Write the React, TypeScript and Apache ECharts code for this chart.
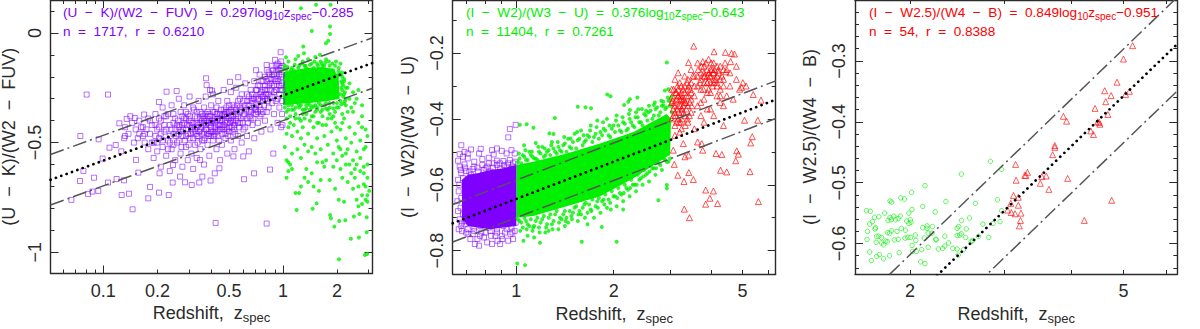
import React, { useEffect, useRef } from "react";
import * as echarts from "echarts";

// All point lists are [log10 z, y].
const p1Purple = [
[-1.093,-.281],[-.974,-.281],[-1.128,-.470],[-1.178,-.761],[-1.130,-.675],[-1.111,-.629],[-1.052,-.660],[-1.028,-.720],[-1.085,-.734],[-1.061,-.723],
[-.974,-.682],[-.926,-.666],[-.885,-.672],[-.898,-.739],[-.857,-.733],[-.837,-.804],[-.750,-.754],[-.740,-.702],[-.690,-.728],[-.636,-.739],
[-.614,-.682],[-.573,-.655],[-.545,-.681],[-.508,-.693],[-.466,-.682],[-.449,-.655],[-.403,-.673],[-.375,-.866],[-.091,-.869],[-.217,-.667],
[-.161,-.640],[-.072,-.623],[-.054,-.550],[-.221,-.563],[-.276,-.563],[-.354,-.617],[-.380,-.640],[-.462,-.579],[-.612,-.602],[-.687,-.640],
[-.805,-.637],[-.818,-.579],[-1.004,-.573],[-1.026,-.485],[-.966,-.523],[-.931,-.511],[-.911,-.412],[-.870,-.392],[-.825,-.388],[-.773,-.372],
[-.879,-.470],[-.884,-.480],[-.808,-.480],[-.690,-.315],[-.648,-.268],[-.592,-.265],[-.428,-.207],[-.425,-.238],[-.406,-.260],[-.395,-.263],
[-.295,-.223],[-.249,-.202],[-.150,-.170],[-.091,-.146],[-.013,-.088],[-.044,-.123],
[-.80,-.40],[-.79,-.43],[-.78,-.47],[-.77,-.50],[-.76,-.44],[-.75,-.39],[-.75,-.53],[-.74,-.46],[-.73,-.42],[-.72,-.50],[-.72,-.57],[-.71,-.37],[-.70,-.44],[-.70,-.54],[-.69,-.48],[-.68,-.40],[-.68,-.61],[-.67,-.34],[-.67,-.52],[-.66,-.45],
[-.65,-.38],[-.65,-.56],[-.64,-.49],[-.63,-.42],[-.63,-.63],[-.62,-.33],[-.62,-.53],[-.61,-.46],[-.60,-.39],[-.60,-.58],[-.59,-.50],[-.58,-.30],[-.58,-.43],[-.57,-.55],[-.57,-.36],[-.56,-.47],[-.56,-.61],[-.55,-.41],[-.55,-.33],[-.54,-.52],
[-.54,-.44],[-.53,-.37],[-.53,-.58],[-.52,-.48],[-.52,-.29],[-.51,-.41],[-.51,-.55],[-.50,-.34],[-.50,-.45],[-.50,-.62],[-.49,-.51],[-.49,-.38],[-.48,-.43],[-.48,-.57],[-.47,-.31],[-.47,-.47],[-.46,-.36],[-.46,-.53],[-.45,-.40],[-.45,-.49],
[-.44,-.34],[-.44,-.60],[-.43,-.44],[-.43,-.29],[-.42,-.51],[-.42,-.38],[-.41,-.46],[-.41,-.56],[-.40,-.33],[-.40,-.41],[-.39,-.49],[-.39,-.28],[-.38,-.44],[-.38,-.36],[-.37,-.53],[-.37,-.40],[-.36,-.31],[-.36,-.47],[-.35,-.58],[-.35,-.37],
[-.34,-.43],[-.34,-.51],[-.33,-.26],[-.33,-.35],[-.32,-.46],[-.32,-.40],[-.31,-.55],[-.31,-.31],[-.30,-.43],[-.30,-.36],[-.29,-.49],[-.29,-.27],[-.28,-.40],[-.28,-.33],[-.27,-.53],[-.27,-.44],[-.26,-.37],[-.26,-.25],[-.25,-.47],[-.25,-.31],
[-.24,-.41],[-.24,-.34],[-.23,-.50],[-.23,-.28],[-.22,-.38],[-.22,-.44],[-.21,-.23],[-.21,-.33],[-.20,-.47],[-.20,-.39],[-.19,-.29],[-.19,-.54],[-.18,-.36],[-.18,-.26],[-.17,-.42],[-.17,-.32],[-.16,-.22],[-.16,-.48],[-.15,-.37],[-.15,-.29],
[-.14,-.24],[-.14,-.41],[-.13,-.33],[-.13,-.19],[-.12,-.45],[-.12,-.27],[-.11,-.36],[-.11,-.22],[-.10,-.30],[-.10,-.40],[-.09,-.17],[-.09,-.26],[-.08,-.34],[-.08,-.21],[-.07,-.44],[-.07,-.29],[-.06,-.15],[-.06,-.24],[-.05,-.37],[-.05,-.19],
[-.04,-.31],[-.04,-.26],[-.03,-.14],[-.03,-.41],[-.03,-.21],[-.02,-.34],[-.02,-.17],[-.02,-.28],[-.01,-.43],[-.01,-.24],[-.01,-.13],[-.005,-.37],[-.005,-.31],[-.005,-.19],[-.003,-.42],[-.003,-.26],
[-.36,-.39],[-.35,-.44],[-.34,-.38],[-.33,-.42],[-.32,-.36],[-.31,-.44],[-.30,-.39],[-.29,-.35],[-.28,-.45],[-.27,-.37],[-.31,-.38],[-.37,-.34],[-.38,-.41],[-.39,-.45],[-.41,-.40],[-.43,-.37],[-.44,-.45],[-.46,-.41],[-.48,-.39],[-.49,-.44],
[-.52,-.42],[-.53,-.46],[-.55,-.39],[-.57,-.45],[-.59,-.42],[-.61,-.41],[-.63,-.47],[-.66,-.42],[-.69,-.43],[-.71,-.47],[-.24,-.36],[-.22,-.34],[-.20,-.31],[-.18,-.39],[-.16,-.34],[-.14,-.30],[-.12,-.37],[-.10,-.26],[-.08,-.28],[-.06,-.32],
[-.04,-.22],[-.02,-.24],[-.15,-.26],[-.13,-.28],[-.11,-.31],[-.09,-.36],[-.07,-.23],[-.05,-.27],[-.03,-.30],[-.01,-.20],
[-.47,-.42],[-.465,-.45],[-.46,-.39],[-.455,-.43],[-.45,-.46],[-.445,-.38],[-.44,-.41],[-.435,-.48],[-.43,-.40],[-.425,-.44],[-.42,-.36],[-.415,-.47],[-.41,-.42],[-.405,-.38],[-.40,-.45],[-.395,-.40],[-.39,-.36],[-.385,-.47],[-.38,-.39],[-.375,-.43],
[-.37,-.45],[-.365,-.37],[-.36,-.42],[-.355,-.49],[-.35,-.40],[-.345,-.35],[-.34,-.46],[-.335,-.39],[-.33,-.44],[-.325,-.37],[-.32,-.43],[-.315,-.34],[-.31,-.41],[-.305,-.47],[-.30,-.33],[-.295,-.41],[-.29,-.38],[-.285,-.43],[-.28,-.36],[-.275,-.41],
[-.27,-.34],[-.265,-.46],[-.26,-.40],[-.255,-.33],[-.25,-.38],[-.245,-.43],[-.24,-.30],[-.235,-.39],[-.23,-.35],[-.225,-.41],[-.22,-.31],[-.215,-.37],[-.21,-.43],[-.205,-.35],[-.20,-.28],[-.195,-.41],[-.19,-.33],[-.185,-.38],[-.18,-.31],[-.175,-.35],
[-.17,-.28],[-.165,-.39],[-.16,-.30],[-.155,-.35],[-.15,-.33],[-.145,-.26],[-.14,-.36],[-.135,-.30],[-.13,-.24],[-.125,-.35],[-.12,-.22],[-.115,-.29],[-.11,-.26],[-.105,-.33],[-.10,-.20],[-.095,-.28],[-.09,-.22],[-.085,-.31],[-.08,-.24],[-.075,-.19],
[-.07,-.26],[-.065,-.21],[-.06,-.29],[-.055,-.17],[-.05,-.24],[-.045,-.21],[-.04,-.18],[-.035,-.26],[-.03,-.17],[-.025,-.22],[-.02,-.19],[-.015,-.26],[-.01,-.16],[-.005,-.23],[-.003,-.15],[-.06,-.19],[-.04,-.15],[-.02,-.15],[-.08,-.18],[-.10,-.24],
[-.60,-.44],[-.595,-.47],[-.585,-.40],[-.58,-.49],[-.575,-.42],[-.565,-.52],[-.56,-.38],[-.555,-.44],[-.545,-.49],[-.54,-.36],[-.535,-.42],[-.525,-.51],[-.52,-.38],[-.515,-.46],[-.505,-.43],[-.50,-.48],[-.495,-.35],[-.485,-.46],[-.48,-.36],[-.475,-.50],
[-.68,-.46],[-.67,-.49],[-.66,-.38],[-.65,-.44],[-.64,-.53],[-.64,-.37],[-.63,-.50],[-.62,-.44],[-.61,-.37],[-.61,-.51],[-.74,-.40],[-.73,-.50],[-.71,-.42],[-.70,-.50],[-.69,-.39],[-.77,-.46],[-.78,-.43],[-.80,-.46],[-.82,-.44],[-.84,-.41],[-.83,-.50],[-.86,-.46],[-.85,-.38],[-.88,-.43],[-.90,-.54],
[-.44,-.39],[-.43,-.42],[-.42,-.46],[-.41,-.37],[-.40,-.43],[-.39,-.40],[-.38,-.46],[-.37,-.37],[-.36,-.44],[-.35,-.42],[-.34,-.40],[-.33,-.37],[-.32,-.48],[-.31,-.36],[-.30,-.45],[-.29,-.40],[-.28,-.38],[-.27,-.42],[-.26,-.35],[-.25,-.41],
[-.58,-.46],[-.56,-.42],[-.54,-.47],[-.52,-.40],[-.50,-.41],[-.48,-.47],[-.46,-.44],[-.44,-.49],[-.42,-.41],[-.40,-.47],[-.54,-.39],[-.51,-.44],[-.48,-.41],[-.45,-.37],[-.19,-.36],[-.17,-.30],[-.15,-.35],[-.13,-.38],[-.11,-.29],[-.09,-.30],
];
const p1GreenCore = [[0,-.18],[.06,-.17],[.13,-.16],[.22,-.155],[.28,-.165],[.31,-.20],[.315,-.30],[.25,-.31],[.15,-.32],[.05,-.325],[0,-.33]];
const p1Green = [
[.100,.112],[.184,.128],[.265,.128],[.262,.029],[.160,.009],[.262,-.005],[.252,-.036],[.239,-.047],[.113,-.062],[.117,-.093],[.085,-.105],[.206,-.100],[.017,-.111],
[.312,-1.032],[.456,-1.012],[.469,-1.008],[.378,-.938],[.423,-.933],[.466,-.909],[.076,-.807],[.165,-.801],[.187,-.777],[.267,-.845],[.262,-.830],[.313,-.857],[.347,-.854],[.395,-.837],[.425,-.825],[.466,-.840],[.286,-.883],
[.02,-.58],[.03,-.59],[.04,-.60],[.03,-.63],[.05,-.62],[.02,-.66],[.09,-.73],[.07,-.73],[.10,-.70],[.12,-.66],[.14,-.68],[.13,-.62],[.16,-.64],[.19,-.59],[.17,-.70],[.21,-.67],[.20,-.72],[.23,-.61],[.26,-.67],[.29,-.71],[.31,-.76],[.32,-.62],[.30,-.58],[.33,-.66],
[.35,-.55],[.37,-.60],[.38,-.64],[.39,-.71],[.40,-.66],[.41,-.76],[.42,-.70],[.43,-.63],[.44,-.74],[.45,-.69],[.46,-.76],[.47,-.66],[.48,-.72],[.47,-.77],[.44,-.78],[.42,-.79],[.40,-.62],[.45,-.61],[.47,-.74],[.46,-.70],[.36,-.68],[.34,-.77],
[.02,-.46],[.03,-.43],[.05,-.47],[.06,-.42],[.08,-.45],[.09,-.39],[.10,-.48],[.11,-.43],[.12,-.51],[.13,-.37],[.14,-.46],[.15,-.40],[.16,-.52],[.17,-.43],[.18,-.36],[.19,-.48],[.20,-.41],[.21,-.53],[.22,-.38],[.23,-.47],[.24,-.42],[.25,-.51],[.26,-.37],[.27,-.45],[.28,-.55],[.29,-.41],[.30,-.49],[.31,-.52],[.32,-.44],[.33,-.56],[.34,-.39],[.35,-.48],[.36,-.53],[.37,-.43],[.38,-.50],[.39,-.36],[.40,-.46],[.41,-.54],[.42,-.41],[.43,-.49],[.44,-.38],[.45,-.53],[.46,-.44],[.47,-.47],[.46,-.52],[.44,-.43],
[.02,-.36],[.04,-.38],[.06,-.35],[.07,-.39],[.09,-.34],[.11,-.37],[.13,-.33],[.15,-.35],[.17,-.38],[.19,-.34],[.21,-.36],[.23,-.33],[.25,-.35],[.27,-.39],[.29,-.36],[.31,-.34],[.33,-.37],[.35,-.33],[.36,-.36],[.38,-.34],[.40,-.32],[.37,-.30],[.39,-.27],[.42,-.26],[.41,-.30],[.44,-.33],[.36,-.25],[.34,-.22],[.37,-.23],[.35,-.30],[.33,-.26],
[.01,-.15],[.03,-.13],[.05,-.16],[.07,-.12],[.09,-.15],[.11,-.13],[.13,-.16],[.14,-.12],[.16,-.14],[.18,-.11],[.19,-.14],[.21,-.13],[.23,-.15],[.24,-.12],[.26,-.15],[.27,-.17],[.29,-.15],[.31,-.16],[.33,-.18],[.32,-.14],[.02,-.20],[.04,-.18],[.30,-.20],[.34,-.21],[.10,-.18],[.15,-.18],[.20,-.17],
[.01,-.52],[.05,-.55],[.08,-.53],[.10,-.57],[.24,-.58],[.28,-.61],[.32,-.53],[.35,-.60],[.39,-.58],[.18,-.55],[.14,-.54],[.22,-.59],[.43,-.57],[.41,-.60],[.47,-.60],[.45,-.64],
[.01,-.34],[.03,-.33],[.05,-.35],[.08,-.32],[.10,-.33],[.12,-.35],[.14,-.32],[.16,-.34],[.18,-.33],[.20,-.32],[.22,-.35],[.24,-.32],[.26,-.34],[.28,-.32],[.30,-.34],[.32,-.31],[.34,-.32],[.34,-.28],[.35,-.25],[.33,-.23],[.02,-.39],[.04,-.41],[.07,-.37],[.10,-.40],[.12,-.39],[.16,-.38],[.19,-.41],[.22,-.42],[.25,-.39],[.28,-.38],[.30,-.43],[.33,-.41],[.02,-.17],[.06,-.17],[.12,-.15],[.17,-.16],[.22,-.15],[.25,-.17],[.28,-.17],[.31,-.19],
[.005,-.165],[.025,-.155],[.045,-.17],[.065,-.145],[.085,-.16],[.105,-.14],[.125,-.15],[.15,-.145],[.175,-.13],[.195,-.15],[.215,-.14],[.235,-.135],[.255,-.13],[.275,-.14],[.295,-.13],[.31,-.175],[.32,-.19],[.325,-.22],[.33,-.20],[.325,-.25],[.335,-.24],[.32,-.28],[.335,-.29],[.345,-.27],[.345,-.31],[.325,-.325],[.30,-.32],[.28,-.345],[.26,-.32],[.24,-.345],[.21,-.33],[.19,-.35],[.17,-.335],[.15,-.33],[.13,-.345],[.11,-.35],[.09,-.33],[.07,-.34],[.05,-.33],[.03,-.35],
];
const p2PurpleCore = [[-.168,-.585],[-.15,-.57],[-.12,-.565],[-.08,-.555],[-.04,-.55],[0,-.54],[0,-.725],[-.04,-.73],[-.08,-.735],[-.12,-.73],[-.15,-.725],[-.168,-.70]];
const p2Purple = [
[-.002,-.418],[-.02,-.431],[-.025,-.456],[-.17,-.480],[-.16,-.500],[-.14,-.493],[-.11,-.491],[-.115,-.505],[-.15,-.505],[-.165,-.515],[-.175,-.507],[-.18,-.527],[-.175,-.545],[-.16,-.538],[-.15,-.520],[-.13,-.530],[-.105,-.522],[-.085,-.518],[-.07,-.508],[-.075,-.495],[-.06,-.490],[-.045,-.497],[-.03,-.505],[-.015,-.495],[-.005,-.505],
[-.09,-.545],[-.07,-.535],[-.06,-.527],[-.04,-.528],[-.02,-.525],[-.01,-.535],[-.17,-.565],[-.155,-.558],[-.135,-.552],[-.12,-.548],[-.10,-.555],[-.08,-.560],[-.05,-.551],[-.03,-.545],[-.18,-.585],[-.165,-.580],[-.14,-.570],[-.11,-.575],[-.045,-.565],[-.015,-.552],
[-.178,-.62],[-.182,-.65],[-.18,-.68],[-.175,-.705],[-.17,-.725],[-.16,-.72],[-.155,-.745],[-.15,-.735],[-.142,-.765],[-.135,-.75],[-.128,-.78],[-.12,-.765],[-.115,-.785],[-.108,-.745],[-.10,-.76],[-.09,-.775],[-.08,-.74],[-.075,-.78],[-.065,-.755],[-.058,-.77],[-.05,-.78],[-.043,-.765],[-.035,-.745],[-.025,-.77],[-.018,-.75],[-.01,-.765],[-.005,-.74],[-.165,-.69],[-.155,-.71],[-.13,-.73],[-.11,-.725],[-.085,-.73],[-.06,-.735],[-.04,-.725],[-.015,-.73],[-.002,-.715],[-.045,-.705],[-.095,-.70],[-.14,-.68],
[-.172,-.555],[-.158,-.548],[-.145,-.56],[-.13,-.545],[-.118,-.56],[-.105,-.54],[-.095,-.55],[-.085,-.535],[-.072,-.548],[-.06,-.54],[-.05,-.535],[-.038,-.54],[-.025,-.535],[-.012,-.545],[-.003,-.53],[-.168,-.74],[-.148,-.75],[-.13,-.74],[-.112,-.755],[-.095,-.745],[-.078,-.755],[-.06,-.745],[-.045,-.755],[-.03,-.735],[-.012,-.745],[-.176,-.60],[-.17,-.64],[-.172,-.67],[-.178,-.735],[-.168,-.715],
];
const p2GreenCore = [[0,-.54],[.0525,-.53],[.156,-.505],[.259,-.475],[.362,-.44],[.465,-.385],[.478,-.40],[.475,-.51],[.465,-.515],[.362,-.58],[.259,-.635],[.156,-.665],[.0525,-.695],[0,-.70]];
const p2Green = [
[.465,-.229],[.281,-.326],[.291,-.331],[.190,-.363],[.214,-.365],[.231,-.368],[.346,-.348],[.351,-.340],[.374,-.335],[.333,-.358],[.351,-.373],[.377,-.371],[.401,-.375],[.425,-.358],[.454,-.348],[.470,-.310],[.459,-.314],[.480,-.332],[.119,-.397],[.053,-.427],[.032,-.416],[.011,-.418],[.102,-.444],[.115,-.446],[.024,-.480],[.060,-.473],
[.003,-.839],[.027,-.844],[.022,-.770],[.202,-.773],[.310,-.773],[.264,-.728],[.073,-.776],[.439,-.647],[.465,-.611],[.465,-.601],
[.01,-.52],[.02,-.51],[.03,-.525],[.04,-.50],[.05,-.515],[.06,-.52],[.07,-.50],[.08,-.485],[.09,-.51],[.10,-.495],[.11,-.47],[.12,-.50],[.13,-.485],[.14,-.50],[.15,-.475],[.16,-.46],[.17,-.49],[.18,-.445],[.19,-.465],[.20,-.435],[.21,-.47],[.22,-.45],[.23,-.42],[.24,-.455],[.25,-.405],[.26,-.44],[.27,-.43],[.28,-.40],[.29,-.455],[.30,-.42],[.31,-.39],[.32,-.435],[.33,-.41],[.34,-.435],[.35,-.40],[.36,-.42],[.37,-.38],[.38,-.41],[.39,-.42],[.40,-.39],[.41,-.36],[.42,-.40],[.43,-.37],[.44,-.39],[.45,-.36],[.46,-.37],[.47,-.345],[.475,-.36],[.48,-.38],
[.01,-.71],[.02,-.73],[.03,-.71],[.04,-.725],[.05,-.74],[.06,-.71],[.07,-.73],[.08,-.705],[.09,-.745],[.10,-.70],[.11,-.72],[.12,-.69],[.13,-.735],[.14,-.705],[.15,-.68],[.16,-.715],[.17,-.695],[.18,-.67],[.19,-.71],[.20,-.69],[.21,-.66],[.22,-.685],[.23,-.675],[.24,-.70],[.25,-.65],[.26,-.685],[.27,-.645],[.28,-.67],[.29,-.655],[.30,-.635],[.31,-.665],[.32,-.625],[.33,-.65],[.34,-.61],[.35,-.635],[.36,-.60],[.37,-.62],[.38,-.585],[.39,-.60],[.40,-.57],[.41,-.59],[.42,-.55],[.43,-.57],[.44,-.535],[.45,-.555],[.46,-.525],[.47,-.53],[.035,-.755],[.055,-.76],[.10,-.74],[.15,-.725],[.22,-.72],[.33,-.675],
[.005,-.53],[.015,-.535],[.025,-.515],[.035,-.525],[.045,-.51],[.055,-.52],[.065,-.525],[.075,-.505],[.085,-.515],[.095,-.50],[.105,-.51],[.115,-.49],[.125,-.505],[.135,-.495],[.145,-.48],[.155,-.50],[.165,-.485],[.175,-.47],[.185,-.49],[.195,-.46],[.205,-.48],[.215,-.465],[.225,-.455],[.235,-.47],[.245,-.445],[.255,-.46],[.265,-.45],[.275,-.435],[.285,-.45],[.295,-.43],[.305,-.44],[.315,-.42],[.325,-.44],[.335,-.415],[.345,-.43],[.355,-.41],[.365,-.425],[.375,-.395],[.385,-.41],[.395,-.385],[.405,-.405],[.415,-.375],[.425,-.39],[.435,-.365],[.445,-.38],[.455,-.36],[.465,-.365],[.475,-.345],
[.008,-.505],[.028,-.495],[.048,-.50],[.068,-.485],[.088,-.49],[.108,-.48],[.128,-.47],[.148,-.455],[.168,-.46],[.188,-.44],[.208,-.45],[.228,-.435],[.248,-.425],[.268,-.41],[.288,-.42],[.308,-.405],[.328,-.395],[.348,-.385],[.368,-.395],[.388,-.37],[.408,-.38],[.428,-.35],[.448,-.345],[.468,-.335],
[.005,-.705],[.015,-.715],[.025,-.70],[.035,-.72],[.045,-.705],[.055,-.725],[.065,-.70],[.075,-.715],[.085,-.695],[.095,-.72],[.105,-.69],[.115,-.71],[.125,-.68],[.135,-.70],[.145,-.69],[.155,-.70],[.165,-.68],[.175,-.685],[.185,-.665],[.195,-.68],[.205,-.67],[.215,-.655],[.225,-.66],[.235,-.645],[.245,-.665],[.255,-.64],[.265,-.65],[.275,-.63],[.285,-.645],[.295,-.62],[.305,-.635],[.315,-.61],[.325,-.63],[.335,-.60],[.345,-.615],[.355,-.585],[.365,-.60],[.375,-.57],[.385,-.58],[.395,-.555],[.405,-.565],[.415,-.54],[.425,-.55],[.435,-.53],[.445,-.54],[.455,-.52],[.465,-.53],[.475,-.52],
[.012,-.74],[.032,-.735],[.052,-.73],[.072,-.745],[.092,-.73],[.112,-.735],[.132,-.715],[.152,-.71],[.172,-.705],[.192,-.69],[.212,-.70],[.232,-.68],[.252,-.67],[.272,-.66],[.292,-.675],[.312,-.64],[.332,-.625],[.352,-.61],[.372,-.60],[.392,-.575],[.412,-.56],[.432,-.55],
];
const p2Red = [
[.548,-.179],[.611,-.196],[.646,-.198],[.665,-.201],[.674,-.203],[.532,-.229],[.576,-.226],[.594,-.219],[.662,-.226],[.624,-.252],[.648,-.257],[.696,-.304],[.732,-.326],[.756,-.343],[.746,-.404],[.705,-.404],[.729,-.454],[.724,-.473],[.681,-.497],[.686,-.507],[.678,-.527],[.722,-.560],[.748,-.651],[.635,-.508],[.617,-.505],[.650,-.561],[.631,-.556],[.585,-.616],[.609,-.619],[.598,-.641],[.585,-.659],[.622,-.657],[.519,-.674],[.535,-.700],[.499,-.571],[.533,-.563],[.518,-.590],[.547,-.584],[.488,-.538],[.521,-.515],[.532,-.510],[.576,-.495],[.573,-.475],[.560,-.470],[.516,-.475],[.485,-.495],
[.48,-.31],[.49,-.28],[.50,-.33],[.50,-.26],[.51,-.30],[.52,-.35],[.52,-.27],[.53,-.31],[.54,-.29],[.54,-.25],[.55,-.33],[.55,-.27],[.56,-.23],[.56,-.30],[.57,-.26],[.57,-.35],[.58,-.29],[.58,-.24],[.59,-.32],[.59,-.27],[.60,-.25],[.60,-.37],[.61,-.29],[.61,-.23],[.62,-.33],[.62,-.27],[.63,-.24],[.63,-.31],[.64,-.28],[.64,-.36],[.65,-.25],[.65,-.33],[.66,-.30],[.66,-.26],[.67,-.34],[.68,-.28],[.68,-.24],[.69,-.31],[.70,-.29],[.71,-.30],
[.48,-.35],[.49,-.38],[.49,-.42],[.50,-.36],[.50,-.40],[.51,-.34],[.51,-.38],[.51,-.43],[.52,-.32],[.52,-.39],[.53,-.36],[.53,-.41],[.53,-.28],[.54,-.34],[.54,-.38],[.55,-.30],[.55,-.43],[.56,-.36],[.56,-.27],[.57,-.31],[.57,-.39],[.58,-.27],[.58,-.34],[.58,-.41],[.59,-.29],[.59,-.37],[.60,-.27],[.60,-.32],[.61,-.26],[.61,-.39],[.62,-.30],[.62,-.24],[.63,-.28],[.63,-.35],[.64,-.25],[.64,-.42],[.60,-.29],[.595,-.26],[.605,-.25],[.59,-.25],[.58,-.26],[.61,-.28],[.57,-.28],[.50,-.31],[.505,-.29],[.51,-.32],[.495,-.34],[.515,-.36],[.485,-.37],[.48,-.40],[.49,-.45],[.505,-.44],
[.482,-.33],[.485,-.39],[.488,-.36],[.492,-.32],[.495,-.41],[.498,-.30],[.502,-.38],[.505,-.34],[.508,-.41],[.512,-.37],[.515,-.31],[.518,-.34],[.522,-.42],[.525,-.37],[.528,-.29],[.532,-.33],[.535,-.39],[.538,-.31],[.542,-.36],[.545,-.27],
[.562,-.25],[.568,-.29],[.572,-.24],[.578,-.31],[.582,-.27],[.586,-.23],[.59,-.29],[.594,-.31],[.598,-.27],[.602,-.23],[.606,-.30],[.608,-.26],[.612,-.25],[.616,-.28],[.62,-.29],[.625,-.26],[.63,-.33],[.635,-.27],[.64,-.30],[.645,-.23],
[.483,-.345],[.486,-.31],[.489,-.35],[.492,-.39],[.495,-.32],[.498,-.37],[.501,-.33],[.503,-.41],[.506,-.36],[.509,-.33],[.512,-.40],[.514,-.345],[.517,-.38],[.52,-.30],[.523,-.35],[.526,-.33],[.529,-.40],[.533,-.30],[.536,-.35],[.54,-.32],
];
const p3Green = [
[.451,-.465],[.472,-.478],[.397,-.486],[.329,-.505],[.304,-.516],[.284,-.525],[.291,-.527],[.264,-.530],[.267,-.532],[.368,-.531],[.423,-.534],[.464,-.528],[.325,-.539],[.305,-.544],[.348,-.548],[.472,-.546],[.220,-.546],[.227,-.547],[.254,-.550],[.243,-.556],[.235,-.557],[.231,-.564],[.226,-.568],[.222,-.580],[.221,-.593],[.237,-.574],[.236,-.576],[.239,-.588],[.243,-.588],[.248,-.590],[.238,-.598],[.248,-.599],[.252,-.602],[.256,-.596],[.259,-.597],[.259,-.582],[.263,-.583],[.267,-.579],[.277,-.580],[.285,-.575],[.293,-.578],[.299,-.550],[.302,-.561],[.295,-.563],[.299,-.567],[.303,-.565],[.283,-.555],[.271,-.555],[.264,-.557],[.260,-.562],[.266,-.561],[.274,-.561],[.279,-.559],[.226,-.614],[.229,-.628],[.239,-.621],[.244,-.618],[.252,-.625],[.263,-.620],[.281,-.615],[.272,-.594],[.279,-.593],[.292,-.591],[.297,-.590],[.302,-.590],[.311,-.586],[.312,-.595],[.305,-.603],[.306,-.613],[.313,-.613],[.323,-.610],[.335,-.606],[.321,-.630],[.329,-.633],[.325,-.574],[.333,-.571],[.333,-.575],[.335,-.583],[.328,-.591],[.342,-.583],[.349,-.593],[.350,-.594],[.343,-.572],[.354,-.609],[.362,-.608],[.366,-.604],[.373,-.599],[.366,-.588],[.389,-.575],[.392,-.572],[.389,-.587],[.394,-.586],[.397,-.584],[.406,-.576],[.405,-.590],[.397,-.562],[.412,-.558],[.437,-.568],[.456,-.567],[.469,-.564],[.448,-.590],[.418,-.595],[.415,-.597],[.381,-.608],[.389,-.609],[.401,-.610],[.391,-.619],[.429,-.588],
];
const p3Red = [
[.716,-.275],[.699,-.297],[.687,-.335],[.664,-.349],[.676,-.357],[.710,-.350],[.703,-.355],[.666,-.367],[.646,-.378],[.670,-.388],[.587,-.391],[.593,-.399],[.651,-.400],[.655,-.404],[.654,-.401],[.638,-.415],[.643,-.421],[.571,-.439],[.571,-.442],[.567,-.454],[.498,-.470],[.520,-.483],[.517,-.488],[.515,-.488],[.547,-.490],[.555,-.489],[.499,-.496],[.544,-.501],[.595,-.493],[.560,-.511],[.494,-.521],[.503,-.524],[.489,-.534],[.503,-.537],[.677,-.529],[.483,-.545],[.490,-.549],[.497,-.551],[.508,-.550],[.507,-.562],[.626,-.562],[.505,-.571],
];

const fit1 = { slope: 0.297, intercept: -0.285, spread: 0.115 };
const fit2 = { slope: 0.376, intercept: -0.643, spread: 0.057 };
const fit3 = { slope: 0.849, intercept: -0.951, spread: 0.077 };

const PURPLE = "#8000ff", GREEN = "#00f000", RED = "#ff0000", FONT = "Liberation Sans";
const W = "\u00a0\u00a0";

const panels = [
  { left: 50.5, width: 322, height: 273.5, xRange: [0.0508, 3.15], yRange: [-1.0966, 0.15], yNameGap: 33,
    xMajor: [0.1, 1], xMinor: [0.06,0.07,0.08,0.09,0.2,0.3,0.4,0.5,0.6,0.7,0.8,0.9,2,3], xLabels: [0.1,0.2,0.5,1,2],
    yMajor: [-1,-0.5,0], yMinor: [-0.9,-0.8,-0.7,-0.6,-0.4,-0.3,-0.2,-0.1,0.1],
    yName: `(U${W}−${W}K)/(W2${W}−${W}FUV)`, fit: fit1,
    note: `(U${W}−${W}K)/(W2${W}−${W}FUV)${W}=${W}0.297log`, tail: "−0.285", stats: `n${W}=${W}1717,${W}r${W}=${W}0.6210`, color: PURPLE, noteLeft: 63 },
  { left: 452.7, width: 323, height: 274, xRange: [0.636, 6.33], yRange: [-0.871, -0.039], yNameGap: 36,
    xMajor: [1], xMinor: [0.7,0.8,0.9,2,3,4,5,6], xLabels: [1,2,5],
    yMajor: [-0.8,-0.6,-0.4,-0.2], yMinor: [-0.7,-0.5,-0.3,-0.1],
    yName: `(I${W}−${W}W2)/(W3${W}−${W}U)`, fit: fit2,
    note: `(I${W}−${W}W2)/(W3${W}−${W}U)${W}=${W}0.376log`, tail: "−0.643", stats: `n${W}=${W}11404,${W}r${W}=${W}0.7261`, color: GREEN, noteLeft: 466 },
  { left: 855, width: 322.3, height: 274, xRange: [1.58, 6.3], yRange: [-0.65, -0.2], yNameGap: 36,
    xMajor: [], xMinor: [2,3,4,5,6], xLabels: [2,5],
    yMajor: [-0.6,-0.5,-0.4,-0.3], yMinor: [-0.64,-0.62,-0.58,-0.56,-0.54,-0.52,-0.48,-0.46,-0.44,-0.42,-0.38,-0.36,-0.34,-0.32,-0.28,-0.26,-0.24,-0.22],
    yName: `(I${W}−${W}W2.5)/(W4${W}−${W}B)`, fit: fit3,
    note: `(I${W}−${W}W2.5)/(W4${W}−${W}B)${W}=${W}0.849log`, tail: "−0.951", stats: `n${W}=${W}54,${W}r${W}=${W}0.8388`, color: RED, noteLeft: 869 },
];

const toXY = (pts: number[][]) => pts.map(([lz, y]) => [Math.pow(10, lz), y]);
const minus = (v: number | string) => String(+(+v).toPrecision(3)).replace("-", "−");
const INK = "#2b2b2b";

function axesFor(dim: "x" | "y", p: any, g: number) {
  const range = dim === "x" ? p.xRange : p.yRange;
  const majors = dim === "x" ? p.xMajor : p.yMajor;
  const minors = dim === "x" ? p.xMinor : p.yMinor;
  const labels = dim === "x" ? p.xLabels : p.yMajor;
  const sides = dim === "x" ? ["bottom", "top"] : ["left", "right"];
  const base = {
    gridIndex: g, type: dim === "x" ? "log" : "value", min: range[0], max: range[1],
    splitLine: { show: false }, minorTick: { show: false }, minorSplitLine: { show: false },
  };
  const out: any[] = [];
  sides.forEach((position, s) => {
    out.push({
      ...base, position,
      axisLine: { show: true, onZero: false, lineStyle: { color: INK, width: 1.4 } },
      axisTick: { show: majors.length > 0, inside: true, length: 8, customValues: majors, lineStyle: { color: INK, width: 1 } },
      axisLabel: s === 0 ? {
        show: true, customValues: labels, color: INK, fontFamily: FONT, fontSize: 18,
        margin: dim === "x" ? 8 : 7, formatter: minus, hideOverlap: false,
        ...(dim === "y" ? { rotate: 90, align: "center", verticalAlign: "bottom" } : {}),
      } : { show: false },
      ...(s === 0 ? {
        name: dim === "x" ? `{a|Redshift,${W}z}{s|spec}` : p.yName,
        nameLocation: "middle", nameGap: dim === "x" ? 28 : p.yNameGap, nameRotate: dim === "x" ? 0 : 90,
        nameTextStyle: { color: INK, fontFamily: FONT, fontSize: 18, rich: {
          a: { color: INK, fontFamily: FONT, fontSize: 18, lineHeight: 22 },
          s: { color: INK, fontFamily: FONT, fontSize: 13, lineHeight: 22, verticalAlign: "bottom" },
        } },
      } : {}),
    });
    out.push({
      ...base, position,
      axisLine: { show: false, onZero: false },
      axisTick: { show: true, inside: true, length: 4, customValues: minors, lineStyle: { color: INK, width: 1 } },
      axisLabel: { show: false },
    });
  });
  return out;
}

const hollow = (name: string, symbol: string, size: number, color: string, data: number[][], g: number, opacity = 0.7) => ({
  name, type: "scatter", xAxisIndex: 4 * g, yAxisIndex: 4 * g, data: toXY(data), symbol, symbolSize: size,
  itemStyle: { color: "rgba(255,255,255,0)", borderColor: color, borderWidth: 0.8, opacity }, z: 3,
});
const dots = (name: string, data: number[][], g: number, size = 4) => ({
  name, type: "scatter", xAxisIndex: 4 * g, yAxisIndex: 4 * g, data: toXY(data), symbol: "circle", symbolSize: size,
  itemStyle: { color: GREEN }, z: 3,
});
const core = (name: string, color: string, data: number[][], g: number) => ({
  name, type: "custom", xAxisIndex: 4 * g, yAxisIndex: 4 * g, data: toXY(data), z: 2, silent: true,
  encode: { x: 0, y: 1 },
  renderItem: (params: any, api: any) => {
    if (params.dataIndex !== 0) return { type: "group", children: [] };
    return { type: "polygon", shape: { points: toXY(data).map((d) => api.coord(d)) }, style: { fill: color } };
  },
});
const fitLines = (p: any, g: number) => {
  const [a, b] = p.xRange;
  const line = (off: number) => [a, b].map((z: number) => [z, p.fit.slope * Math.log10(z) + p.fit.intercept + off]);
  const mk = (name: string, off: number, style: any) => ({
    name, type: "line", xAxisIndex: 4 * g, yAxisIndex: 4 * g, data: line(off), symbol: "none", z: 5, silent: true, lineStyle: style,
  });
  return [
    mk("fit", 0, { color: "#000", width: 2.7, type: [0.1, 5.6], cap: "round" }),
    mk("upper", p.fit.spread, { color: "#555", width: 1.5, type: [14, 4, 2, 4] }),
    mk("lower", -p.fit.spread, { color: "#555", width: 1.5, type: [14, 4, 2, 4] }),
  ];
};
const notes = panels.flatMap((p) => {
  const rich = {
    a: { color: p.color, fontFamily: FONT, fontSize: 13.6, lineHeight: 18, fontWeight: "normal" },
    s: { color: p.color, fontFamily: FONT, fontSize: 10, lineHeight: 18, verticalAlign: "bottom", fontWeight: "normal" },
  };
  return [
    { left: p.noteLeft, top: 3, padding: 0, text: `{a|${p.note}}{s|10}{a|z}{s|spec}{a|${p.tail}}`, textStyle: { rich, fontWeight: "normal" } },
    { left: p.noteLeft, top: 24, padding: 0, text: p.stats, textStyle: { color: p.color, fontFamily: FONT, fontSize: 13.6, fontWeight: "normal" } },
  ];
});

export default function App() {
  const ref = useRef<HTMLDivElement>(null);
  useEffect(() => {
    const chart = echarts.init(ref.current!, undefined, { renderer: "svg" });
    chart.setOption({
      animation: false,
      backgroundColor: "#fff",
      title: notes,
      grid: panels.map((p) => ({ left: p.left, top: 0, width: p.width, height: p.height, outerBoundsMode: "none" })),
      xAxis: panels.flatMap((p, g) => axesFor("x", p, g)),
      yAxis: panels.flatMap((p, g) => axesFor("y", p, g)),
      series: [
        core("p1 green core", GREEN, p1GreenCore, 0),
        hollow("p1 purple", "rect", 5, PURPLE, p1Purple, 0),
        dots("p1 green", p1Green, 0),
        core("p2 green core", GREEN, p2GreenCore, 1),
        core("p2 purple core", PURPLE, p2PurpleCore, 1),
        hollow("p2 purple", "rect", 5, PURPLE, p2Purple, 1),
        dots("p2 green", p2Green, 1),
        hollow("p2 red", "triangle", 6, RED, p2Red, 1, 0.85),
        hollow("p3 green", "circle", 4.5, GREEN, p3Green, 2, 0.8),
        hollow("p3 red", "triangle", 6, RED, p3Red, 2, 0.8),
        ...panels.flatMap((p, g) => fitLines(p, g)),
      ],
    });
    return () => chart.dispose();
  }, []);
  return <div ref={ref} style={{ position: "absolute", left: 0, top: 0, width: 1200, height: 329 }} />;
}
